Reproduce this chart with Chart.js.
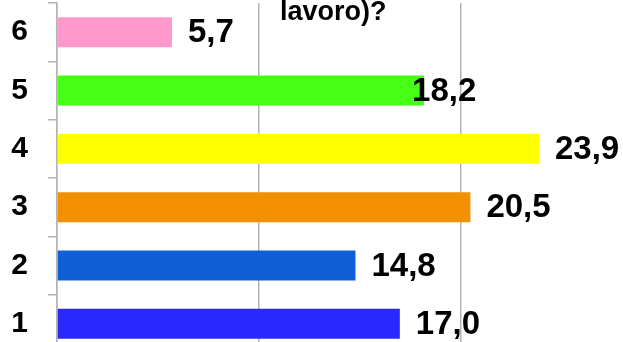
<!DOCTYPE html>
<html>
<head>
<meta charset="utf-8">
<script src="https://cdn.jsdelivr.net/npm/chart.js@4/dist/chart.umd.min.js"></script>
<style>
  html, body { margin: 0; padding: 0; overflow: hidden; background: #fff; }
  #wrap { width: 700px; height: 360px; }
</style>
</head>
<body>
<div id="wrap"><canvas id="GraficoRisposte"></canvas></div>
<script>
var categorie = ['1', '2', '3', '4', '5', '6'];
var valori = [17.0, 14.8, 20.5, 23.9, 18.2, 5.7];
var colori = ['#2828ff', '#105ed8', '#f29000', '#ffff00', '#45ff14', '#ff99cc'];
var tickAsse = [0, 10, 20, 30];
// spostamento dell'etichetta rispetto alla fine della barra
var spostEtichette = [0, 0, 0, 0, -28, 0];

var fontBase = 'Liberation Sans, Arial, sans-serif';

var etichetteValori = {
    id: 'etichetteValori',
    afterDatasetsDraw: function (chart) {
        var ctx = chart.ctx;
        var meta = chart.getDatasetMeta(0);
        ctx.save();
        ctx.font = 'bold 33px ' + fontBase;
        ctx.fillStyle = '#000';
        ctx.textAlign = 'left';
        ctx.textBaseline = 'middle';
        meta.data.forEach(function (barra, i) {
            var testo = valori[i].toFixed(1).replace('.', ',');
            ctx.fillText(testo, barra.x + 16 + spostEtichette[i], barra.y + 1);
        });
        ctx.restore();
    }
};

var titoloTagliato = {
    id: 'titoloTagliato',
    afterDraw: function (chart) {
        var ctx = chart.ctx;
        ctx.save();
        ctx.font = 'bold 27px ' + fontBase;
        ctx.fillStyle = '#000';
        ctx.textAlign = 'left';
        ctx.textBaseline = 'alphabetic';
        ctx.fillText('lavoro)?', 280, 20);
        ctx.restore();
    }
};

new Chart(document.getElementById('GraficoRisposte'), {
    type: 'bar',
    data: {
        labels: categorie,
        datasets: [{
            data: valori,
            backgroundColor: colori,
            borderWidth: 0,
            categoryPercentage: 1,
            barPercentage: 0.514
        }]
    },
    options: {
        indexAxis: 'y',
        responsive: true,
        maintainAspectRatio: false,
        animation: false,
        layout: { padding: { top: 3, right: 38, bottom: 7, left: 0 } },
        plugins: {
            legend: { display: false },
            title: { display: false },
            tooltip: { enabled: false }
        },
        scales: {
            x: {
                min: 0,
                max: 30,
                afterBuildTicks: function (scala) {
                    scala.ticks = tickAsse.map(function (v) { return { value: v }; });
                },
                ticks: { display: false },
                grid: { color: '#b3b3b3', lineWidth: 1.5, drawTicks: false },
                border: { display: false },
                afterFit: function (scala) {
                    scala.height = 0;
                    scala.paddingLeft = 0;
                    scala.paddingRight = 0;
                }
            },
            y: {
                reverse: true,
                ticks: {
                    color: '#000',
                    padding: 20,
                    font: { family: fontBase, size: 30, weight: 'bold' }
                },
                grid: {
                    drawOnChartArea: false,
                    drawTicks: true,
                    tickLength: 9,
                    color: '#b3b3b3',
                    lineWidth: 1.5
                },
                border: { display: true, color: '#b3b3b3', width: 1.5 },
                afterFit: function (scala) {
                    scala.width = 57;
                    scala.paddingTop = 0;
                    scala.paddingBottom = 0;
                }
            }
        }
    },
    plugins: [etichetteValori, titoloTagliato]
});
</script>
</body>
</html>
